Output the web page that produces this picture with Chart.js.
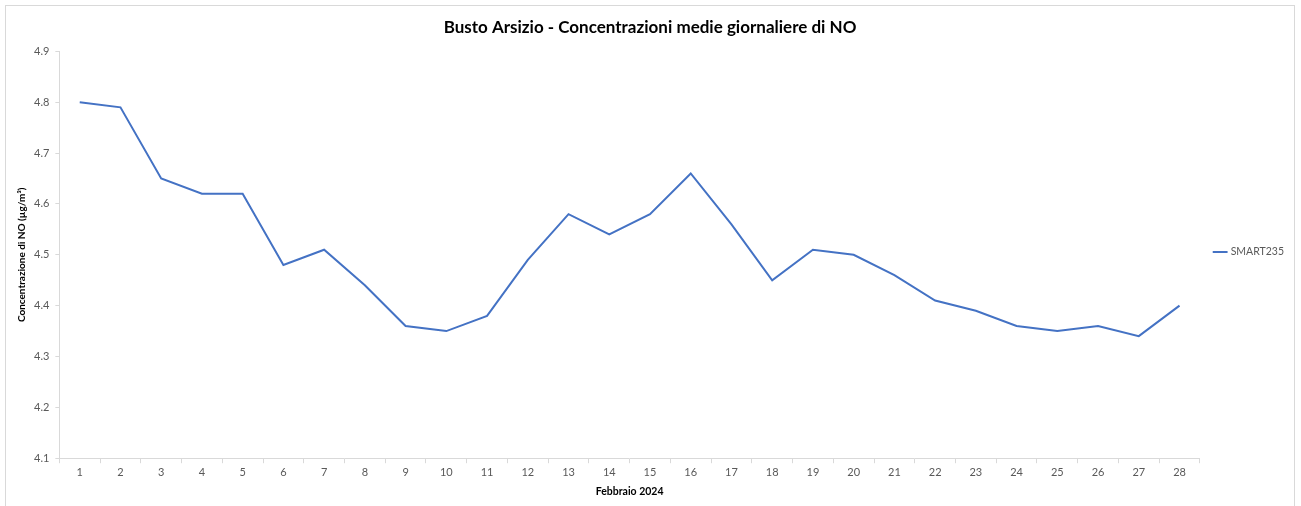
<!DOCTYPE html>
<html>
<head>
<meta charset="utf-8">
<script src="https://cdn.jsdelivr.net/npm/chart.js@4"></script>
<style>
  html, body { margin: 0; padding: 0; background: #fff; }
  #box {
    position: absolute; left: 5px; top: 5px; width: 1290px; height: 510px;
    border: 1px solid #d9d9d9; box-sizing: border-box;
  }
  #wrap { position: absolute; left: 0; top: 0; width: 1288px; height: 500px; }
</style>
</head>
<body>
<div id="box"><div id="wrap"><canvas id="noChart"></canvas></div></div>
<script>
const days = ['1','2','3','4','5','6','7','8','9','10','11','12','13','14','15','16','17','18','19','20','21','22','23','24','25','26','27','28'];
const smart235 = [4.80, 4.79, 4.65, 4.62, 4.62, 4.48, 4.51, 4.44, 4.36, 4.35, 4.38, 4.49, 4.58, 4.54, 4.58, 4.66, 4.56, 4.45, 4.51, 4.50, 4.46, 4.41, 4.39, 4.36, 4.35, 4.36, 4.34, 4.40];
const yMin = 4.1;
const yMax = 4.9;

const ctx = document.getElementById('noChart').getContext('2d');
new Chart(ctx, {
  type: 'line',
  data: {
    labels: days,
    datasets: [{
      label: 'SMART235',
      data: smart235,
      borderColor: '#4472C4',
      backgroundColor: '#4472C4',
      borderWidth: 2,
      pointRadius: 0,
      fill: false,
      tension: 0
    }]
  },
  options: {
    responsive: true,
    maintainAspectRatio: false,
    animation: false,
    layout: { padding: { left: 0, right: 0, top: 0, bottom: 8 } },
    plugins: {
      title: {
        display: true,
        text: 'Busto Arsizio - Concentrazioni medie giornaliere di NO',
        color: '#000',
        font: { family: 'Lato', size: 17, weight: 'bold' },
        padding: { top: 11, bottom: 14 }
      },
      legend: {
        position: 'right',
        labels: {
          usePointStyle: true,
          pointStyle: 'line',
          boxWidth: 22,
          padding: 15,
          color: '#595959',
          font: { family: 'Lato', size: 10.5 }
        }
      },
      tooltip: { enabled: false }
    },
    scales: {
      x: {
        offset: true,
        grid: { display: true, drawOnChartArea: false, drawTicks: true, tickLength: 5, offset: true, color: '#d9d9d9' },
        border: { color: '#d9d9d9' },
        ticks: { color: '#595959', font: { family: 'Lato', size: 11 }, maxRotation: 0, autoSkip: false },
        title: { display: true, text: 'Febbraio 2024', color: '#000', font: { family: 'Lato', size: 10.5, weight: 'bold' }, padding: { top: 3, bottom: 0 } }
      },
      y: {
        min: yMin,
        max: yMax,
        grid: { display: true, drawOnChartArea: false, drawTicks: true, tickLength: 4, color: '#d9d9d9' },
        border: { color: '#d9d9d9' },
        ticks: { stepSize: 0.1, color: '#595959', font: { family: 'Lato', size: 11 }, padding: 6, callback: v => v.toFixed(1) },
        title: { display: true, text: 'Concentrazione di NO (µg/m³)', color: '#000', font: { family: 'Lato', size: 10, weight: 'bold' }, padding: { top: 10, bottom: 0 } }
      }
    }
  }
});
</script>
</body>
</html>
